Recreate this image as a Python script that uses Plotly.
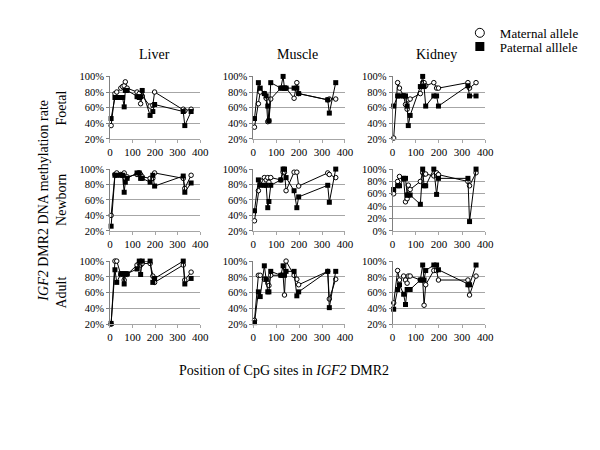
import plotly.graph_objects as go

# CpG positions (bp) within IGF2 DMR2
positions = [5, 22, 30, 48, 56, 63, 68, 76, 120, 130, 136, 143, 178, 190, 198, 325, 332, 360]

tissues = ["Liver", "Muscle", "Kidney"]
stages = ["Foetal", "Newborn", "Adult"]
x_ticks = [0, 100, 200, 300, 400]

# Methylation rate (%) per CpG site
liver_foetal_mat = [37, 78, 80, 85, 87, 88, 93, 85, 80, 78, 65, 75, 62, 63, 80, 58, 56, 58]
liver_foetal_pat = [46, 73, 73, 73, 73, 61, 82, 82, 74, 73, 74, 82, 50, 55, 64, 55, 37, 55]
liver_newborn_mat = [40, 93, 95, 93, 92, 95, 88, 90, 93, 95, 93, 90, 88, 88, 95, 88, 75, 92]
liver_newborn_pat = [26, 92, 92, 92, 92, 70, 83, 88, 95, 95, 88, 88, 83, 92, 78, 91, 70, 82]
liver_adult_mat = [20, 100, 100, 83, 83, 76, 83, 83, 95, 97, 95, 97, 97, 81, 73, 95, 76, 86]
liver_adult_pat = [21, 89, 73, 84, 84, 71, 84, 84, 90, 100, 83, 100, 100, 73, 78, 100, 71, 78]

muscle_foetal_mat = [35, 65, 80, 78, 72, 42, 43, 71, 85, 85, 85, 85, 72, 92, 78, 70, 71, 71]
muscle_foetal_pat = [46, 92, 85, 78, 75, 62, 43, 92, 85, 100, 85, 85, 85, 85, 78, 70, 53, 92]
muscle_newborn_mat = [33, 72, 85, 89, 86, 89, 83, 89, 86, 96, 96, 72, 96, 96, 78, 95, 93, 89]
muscle_newborn_pat = [46, 86, 79, 79, 79, 50, 58, 79, 86, 100, 100, 89, 72, 50, 64, 79, 57, 100]
muscle_adult_mat = [25, 82, 82, 77, 77, 72, 69, 82, 82, 82, 57, 100, 82, 77, 70, 87, 52, 77]
muscle_adult_pat = [22, 61, 55, 94, 77, 61, 61, 87, 82, 94, 82, 87, 87, 56, 61, 87, 41, 87]

kidney_foetal_mat = [21, 92, 85, 75, 64, 58, 70, 71, 78, 92, 92, 88, 92, 85, 85, 92, 85, 92]
kidney_foetal_pat = [62, 75, 75, 75, 75, 62, 37, 50, 87, 100, 87, 62, 75, 75, 62, 88, 75, 75]
kidney_newborn_mat = [60, 80, 88, 84, 47, 52, 74, 67, 80, 94, 92, 92, 89, 94, 91, 80, 73, 94]
kidney_newborn_pat = [67, 73, 73, 85, 85, 58, 58, 58, 43, 100, 73, 73, 100, 59, 85, 85, 15, 100]
kidney_adult_mat = [47, 88, 76, 81, 76, 72, 81, 81, 76, 76, 44, 70, 88, 88, 76, 76, 57, 81]
kidney_adult_pat = [39, 64, 70, 58, 45, 64, 64, 64, 76, 95, 76, 88, 95, 95, 89, 70, 70, 95]

panels = {
    ("Foetal", "Liver"): (liver_foetal_mat, liver_foetal_pat),
    ("Newborn", "Liver"): (liver_newborn_mat, liver_newborn_pat),
    ("Adult", "Liver"): (liver_adult_mat, liver_adult_pat),
    ("Foetal", "Muscle"): (muscle_foetal_mat, muscle_foetal_pat),
    ("Newborn", "Muscle"): (muscle_newborn_mat, muscle_newborn_pat),
    ("Adult", "Muscle"): (muscle_adult_mat, muscle_adult_pat),
    ("Foetal", "Kidney"): (kidney_foetal_mat, kidney_foetal_pat),
    ("Newborn", "Kidney"): (kidney_newborn_mat, kidney_newborn_pat),
    ("Adult", "Kidney"): (kidney_adult_mat, kidney_adult_pat),
}
y_min = {("Newborn", "Kidney"): 0}

W, H = 600, 450
col_px = [(101, 193), (247.3, 340.7), (389.3, 484)]
row_px = [(65, 129), (160, 223.3), (254.3, 319)]

FONT = "Liberation Serif"
GRID = "#a6a6a6"

fig = go.Figure()
layout = {}

mat_marker = dict(symbol="circle", size=4.5, color="white", line=dict(color="black", width=1))
pat_marker = dict(symbol="square", size=5, color="black", line=dict(color="black", width=0))

for r, stage in enumerate(stages):
    for c, tissue in enumerate(tissues):
        idx = r * 3 + c + 1
        xs = "" if idx == 1 else str(idx)
        mat, pat = panels[(stage, tissue)]
        fig.add_trace(go.Scatter(x=positions, y=mat, mode="lines+markers",
                                 line=dict(color="black", width=1), marker=mat_marker,
                                 showlegend=False, cliponaxis=False,
                                 xaxis="x" + xs, yaxis="y" + xs))
        fig.add_trace(go.Scatter(x=positions, y=pat, mode="lines+markers",
                                 line=dict(color="black", width=1), marker=pat_marker,
                                 showlegend=False, cliponaxis=False,
                                 xaxis="x" + xs, yaxis="y" + xs))
        x0, x1 = col_px[c]
        y0, y1 = row_px[r]
        ymin = y_min.get((stage, tissue), 20)
        layout["xaxis" + xs] = dict(
            domain=[x0 / W, x1 / W], anchor="y" + xs, range=[0, 400],
            tickvals=x_ticks, showgrid=False, zeroline=False,
            showline=True, linecolor=GRID, linewidth=1,
            ticks="outside", ticklen=3, tickcolor=GRID,
            tickfont=dict(family=FONT, size=11, color="black"))
        layout["yaxis" + xs] = dict(
            domain=[1 - y1 / H, 1 - y0 / H], anchor="x" + xs, range=[ymin, 100],
            dtick=20, tick0=0, ticksuffix="%", showgrid=True, gridcolor=GRID,
            gridwidth=1, zeroline=False, showline=True, linecolor="#808080",
            linewidth=1, ticks="outside", ticklen=3, tickcolor="#808080",
            tickfont=dict(family=FONT, size=10.5, color="black"))

# legend entries (marker-only symbols), each in its own positioned legend
fig.add_trace(go.Scatter(x=[None], y=[None], mode="markers", name="Maternal allele",
                         legend="legend",
                         marker=dict(symbol="circle", size=9, color="white",
                                     line=dict(color="black", width=1))))
fig.add_trace(go.Scatter(x=[None], y=[None], mode="markers", name="Paternal alllele",
                         legend="legend2",
                         marker=dict(symbol="square", size=9, color="black")))

annotations = []
for c, tissue in enumerate(tissues):
    cx = {0: 146, 1: 292.5, 2: 434}[c]
    annotations.append(dict(text=tissue, x=cx / W, y=1 - 43 / H, xref="paper", yref="paper",
                            xanchor="center", yanchor="middle", showarrow=False,
                            font=dict(family=FONT, size=14, color="black")))
for r, stage in enumerate(stages):
    y0, y1 = row_px[r]
    annotations.append(dict(text=stage, x=52 / W, y=1 - (y0 + y1) / 2 / H, xref="paper",
                            yref="paper", xanchor="center", yanchor="middle",
                            showarrow=False, textangle=-90,
                            font=dict(family=FONT, size=14, color="black")))
annotations.append(dict(text="<i>IGF2</i> DMR2 DNA methylation rate", x=33 / W, y=1 - 192 / H,
                        xref="paper", yref="paper", xanchor="center", yanchor="middle",
                        showarrow=False, textangle=-90,
                        font=dict(family=FONT, size=14, color="black")))
annotations.append(dict(text="Position of CpG sites in <i>IGF2</i> DMR2", x=279 / W, y=1 - 366 / H,
                        xref="paper", yref="paper", xanchor="center", yanchor="middle",
                        showarrow=False, font=dict(family=FONT, size=14, color="black")))

legend_common = dict(xanchor="left", yanchor="top", itemwidth=30, tracegroupgap=0,
                     bgcolor="rgba(0,0,0,0)",
                     font=dict(family=FONT, size=13, color="black"))

fig.update_layout(
    width=W, height=H, margin=dict(l=0, r=0, t=0, b=0),
    paper_bgcolor="white", plot_bgcolor="white",
    showlegend=True,
    legend=dict(x=458 / W, y=1 - 5 / H, **legend_common),
    legend2=dict(x=458 / W, y=1 - 19 / H, **legend_common),
    annotations=annotations,
    **layout,
)

fig.write_html("out.html")
